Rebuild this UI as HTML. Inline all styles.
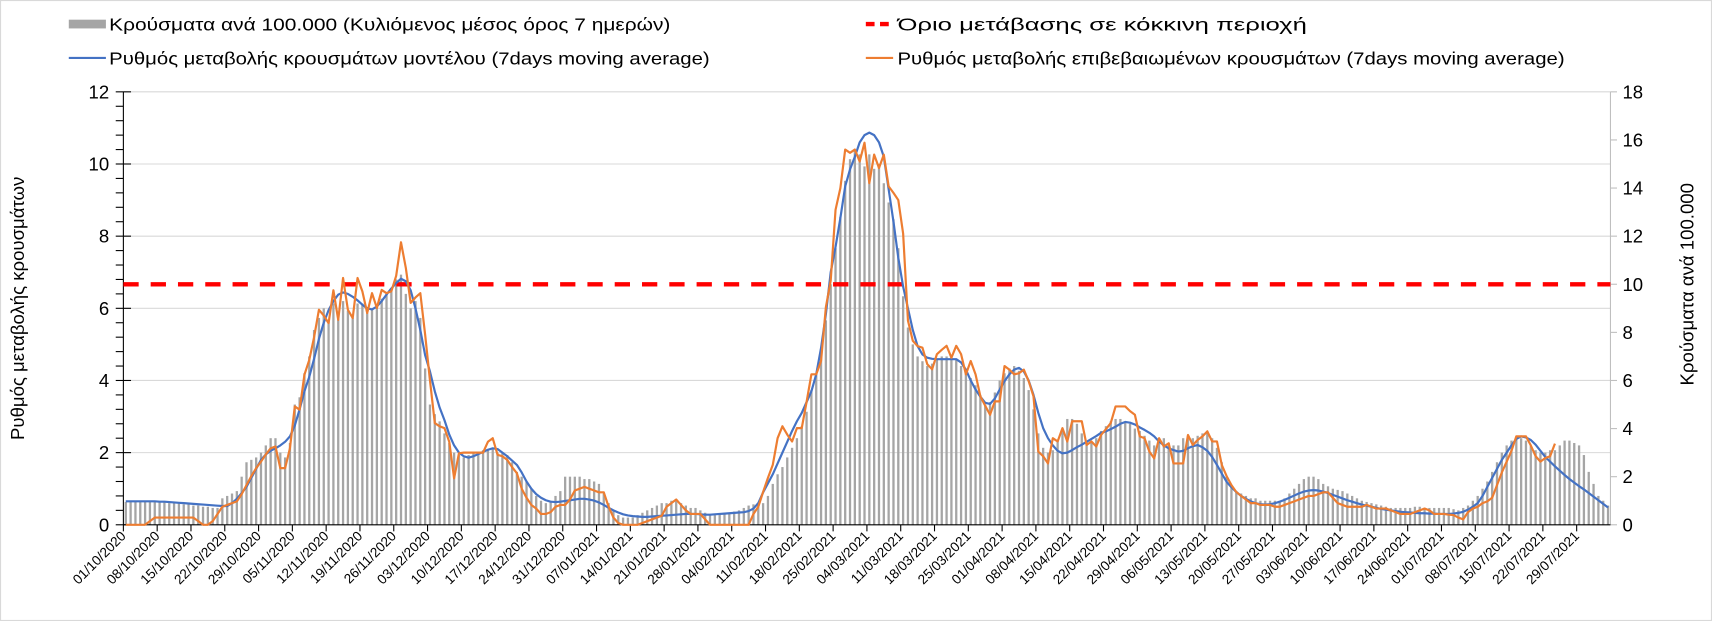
<!DOCTYPE html>
<html><head><meta charset="utf-8">
<style>
html,body{margin:0;padding:0;background:#fff;}
svg{display:block;}
text{font-family:"Liberation Sans",sans-serif;fill:#000;}
</style></head>
<body>
<svg id="chart" width="1712" height="621" viewBox="0 0 1568 568" preserveAspectRatio="none" xmlns="http://www.w3.org/2000/svg">
<rect x="0.5" y="0.5" width="1567" height="567" fill="#fff" stroke="#d9d9d9"/>
<g>
 <g>
  <rect x="63" y="18" width="34" height="8" fill="#a5a5a5"/>
  <text x="100" y="28" font-size="16" textLength="514" lengthAdjust="spacingAndGlyphs">Κρούσματα ανά 100.000 (Κυλιόμενος μέσος όρος 7 ημερών)</text>
 </g>
 <g>
  <line x1="793" y1="22" x2="818" y2="22" stroke="#ff0000" stroke-width="4" stroke-dasharray="8,5"/>
  <text x="822" y="28" font-size="16" textLength="375" lengthAdjust="spacingAndGlyphs">Όριο μετάβασης σε κόκκινη περιοχή</text>
 </g>
 <g>
  <line x1="63" y1="53" x2="97" y2="53" stroke="#4472c4" stroke-width="2"/>
  <text x="100" y="59" font-size="16" textLength="550" lengthAdjust="spacingAndGlyphs">Ρυθμός μεταβολής κρουσμάτων μοντέλου (7days moving average)</text>
 </g>
 <g>
  <line x1="793" y1="53" x2="818" y2="53" stroke="#ed7d31" stroke-width="2"/>
  <text x="822" y="59" font-size="16" textLength="611" lengthAdjust="spacingAndGlyphs">Ρυθμός μεταβολής επιβεβαιωμένων κρουσμάτων (7days moving average)</text>
 </g>
</g>
<text transform="translate(22,282) rotate(-90)" text-anchor="middle" font-size="17">Ρυθμός μεταβολής κρουσμάτων</text>
<text transform="translate(1551,260) rotate(-90)" text-anchor="middle" font-size="17">Κρούσματα ανά 100.000</text>
<g id="grid"></g>
<g id="bars"></g>
<g id="axes"></g>
<g id="lines"></g>
</svg>
<script>
const tickLabels = ["01/10/2020","08/10/2020","15/10/2020","22/10/2020","29/10/2020","05/11/2020","12/11/2020","19/11/2020","26/11/2020","03/12/2020","10/12/2020","17/12/2020","24/12/2020","31/12/2020","07/01/2021","14/01/2021","21/01/2021","28/01/2021","04/02/2021","11/02/2021","18/02/2021","25/02/2021","04/03/2021","11/03/2021","18/03/2021","25/03/2021","01/04/2021","08/04/2021","15/04/2021","22/04/2021","29/04/2021","06/05/2021","13/05/2021","20/05/2021","27/05/2021","03/06/2021","10/06/2021","17/06/2021","24/06/2021","01/07/2021","08/07/2021","15/07/2021","22/07/2021","29/07/2021"];
const leftTicks = [0,2,4,6,8,10,12];
const rightTicks = [0,2,4,6,8,10,12,14,16,18];
const thresholdRight = [10];
const casesPer100k = [
0.95,0.95,0.95,0.95,0.95,0.95,0.95,
0.95,0.95,0.9,0.9,0.9,0.85,0.85,
0.8,0.8,0.75,0.75,0.7,0.7,1.1,
1.2,1.3,1.4,2.0,2.6,2.7,2.8,
3.0,3.3,3.6,3.6,3.0,2.8,3.4,
5.0,5.3,6.3,7.0,8.1,8.6,9.0,
8.5,9.2,8.7,9.3,8.9,8.6,9.2,
9.2,8.8,9.0,9.1,9.4,9.6,9.8,
10.2,10.4,9.6,9.0,9.3,8.6,6.5,
5.0,4.6,4.3,3.8,3.4,3.0,2.9,
2.8,2.9,3.0,3.0,3.1,3.1,3.2,
3.0,3.0,2.9,2.6,2.2,2.0,1.8,
1.5,1.2,1.0,0.9,1.0,1.2,1.4,
2.0,2.0,2.0,2.0,1.9,1.9,1.8,
1.7,1.3,0.9,0.6,0.4,0.3,0.3,
0.3,0.4,0.5,0.6,0.7,0.8,0.9,
0.9,1.0,1.05,0.9,0.8,0.7,0.7,
0.6,0.5,0.4,0.4,0.45,0.5,0.5,
0.55,0.6,0.7,0.8,0.85,0.85,0.9,
1.2,1.7,2.1,2.4,2.8,3.2,3.6,
4.1,4.7,5.6,6.3,7.3,8.5,10.0,
11.5,12.8,14.3,15.2,15.6,15.4,14.9,
15.4,14.8,15.0,14.2,13.4,12.7,11.5,
9.5,8.2,7.5,7.0,6.8,6.6,6.7,
6.9,7.0,7.0,7.0,6.9,6.6,6.3,
6.1,5.8,5.4,5.0,5.1,5.5,6.0,
6.3,6.5,6.6,6.4,6.1,5.6,4.8,
3.8,3.2,3.0,3.1,3.5,4.0,4.4,
4.4,4.2,3.8,3.5,3.4,3.6,3.9,
4.1,4.3,4.4,4.4,4.3,4.2,4.0,
3.9,3.7,3.5,3.3,3.5,3.6,3.4,
3.3,3.3,3.6,3.7,3.6,3.7,3.8,
3.9,3.6,3.2,2.6,2.0,1.6,1.4,
1.3,1.2,1.1,1.1,1.0,1.0,1.0,
1.0,1.0,1.1,1.3,1.5,1.7,1.9,
2.0,2.0,1.9,1.7,1.6,1.5,1.45,
1.4,1.3,1.2,1.1,1.0,0.95,0.9,
0.85,0.8,0.75,0.7,0.7,0.7,0.7,
0.7,0.75,0.75,0.7,0.7,0.7,0.7,
0.7,0.7,0.65,0.6,0.7,0.8,1.0,
1.2,1.5,1.8,2.2,2.6,3.0,3.3,
3.5,3.6,3.6,3.5,3.3,3.1,3.0,
3.0,3.1,3.1,3.3,3.5,3.5,3.4,
3.3,2.9,2.2,1.7,1.2,1.0,0.8];
const modelRate = [
0.65,0.65,0.65,0.65,0.65,0.65,0.65,
0.64,0.64,0.63,0.62,0.61,0.6,0.59,
0.58,0.57,0.56,0.55,0.54,0.53,0.52,
0.52,0.6,0.72,0.88,1.05,1.3,1.55,
1.8,1.95,2.05,2.12,2.2,2.3,2.45,
2.75,3.2,3.7,4.1,4.6,5.15,5.6,
5.95,6.2,6.38,6.44,6.4,6.32,6.22,
6.1,6.0,5.97,6.05,6.2,6.38,6.55,
6.7,6.82,6.75,6.5,6.0,5.4,4.7,
4.25,3.7,3.25,2.9,2.5,2.2,2.0,
1.9,1.86,1.9,1.96,2.02,2.08,2.12,
2.1,2.0,1.9,1.78,1.66,1.45,1.2,
1.0,0.85,0.75,0.68,0.64,0.63,0.64,
0.66,0.68,0.7,0.72,0.72,0.7,0.67,
0.62,0.55,0.47,0.4,0.34,0.29,0.26,
0.24,0.23,0.22,0.22,0.23,0.24,0.25,
0.26,0.27,0.28,0.29,0.3,0.3,0.3,
0.29,0.28,0.28,0.29,0.3,0.31,0.32,
0.33,0.34,0.35,0.38,0.45,0.6,0.9,
1.15,1.4,1.7,2.0,2.3,2.6,2.87,
3.1,3.4,3.7,4.17,4.9,5.84,7.0,
7.7,8.5,9.38,9.85,10.2,10.6,10.8,
10.87,10.8,10.6,10.2,9.3,8.4,7.4,
6.6,6.0,5.4,4.95,4.72,4.63,4.6,
4.59,4.59,4.59,4.59,4.59,4.5,4.3,
4.0,3.75,3.55,3.38,3.35,3.5,3.75,
3.98,4.17,4.3,4.35,4.25,4.0,3.6,
3.1,2.68,2.4,2.2,2.05,1.98,2.0,
2.07,2.15,2.22,2.3,2.38,2.46,2.55,
2.59,2.65,2.72,2.8,2.85,2.83,2.78,
2.7,2.63,2.55,2.45,2.31,2.2,2.12,
2.07,2.03,2.05,2.12,2.18,2.21,2.15,
2.05,1.88,1.66,1.42,1.19,1.04,0.91,
0.8,0.72,0.65,0.6,0.57,0.56,0.57,
0.6,0.64,0.69,0.75,0.81,0.87,0.92,
0.95,0.96,0.95,0.92,0.88,0.83,0.78,
0.73,0.68,0.64,0.6,0.56,0.53,0.5,
0.47,0.44,0.42,0.4,0.38,0.36,0.35,
0.34,0.33,0.32,0.32,0.31,0.31,0.3,
0.3,0.3,0.31,0.33,0.36,0.42,0.5,
0.6,0.8,1.05,1.3,1.55,1.8,2.0,
2.2,2.38,2.45,2.42,2.35,2.22,2.05,
1.88,1.75,1.62,1.5,1.38,1.27,1.17,
1.07,0.98,0.88,0.78,0.68,0.58,0.48];
const confirmedRate = [
0,0,0,0,0,0.1,0.2,
0.2,0.2,0.2,0.2,0.2,0.2,0.2,
0.2,0.1,0,0,0.1,0.3,0.5,
0.55,0.6,0.65,0.85,1.1,1.35,1.57,
1.75,1.95,2.12,2.17,1.57,1.57,2.12,
3.28,3.19,4.16,4.57,5.2,5.96,5.8,
5.59,6.5,5.68,6.84,5.96,5.73,6.84,
6.47,5.87,6.42,6.01,6.51,6.42,6.47,
6.9,7.83,7.12,6.15,6.3,6.42,5.27,
4.0,2.82,2.73,2.68,2.3,1.29,1.98,
2.0,2.0,2.0,2.0,2.0,2.3,2.4,
1.94,1.9,1.8,1.6,1.43,1.0,0.75,
0.55,0.45,0.3,0.3,0.35,0.5,0.55,
0.55,0.7,0.95,1.0,1.05,1.0,0.95,
0.9,0.9,0.5,0.2,0.05,0,0,
0,0,0.05,0.1,0.15,0.2,0.25,
0.5,0.6,0.7,0.55,0.4,0.3,0.3,
0.3,0.15,0,0,0,0,0,
0,0,0,0,0.3,0.5,0.91,
1.3,1.66,2.4,2.73,2.5,2.31,2.68,
2.68,3.4,4.17,4.17,4.54,6.03,6.77,
8.73,9.33,10.4,10.31,10.4,10.07,10.59,
9.47,10.26,9.89,10.26,9.38,9.2,9.0,
8.07,5.66,5.1,4.95,4.91,4.45,4.31,
4.73,4.85,4.96,4.63,4.96,4.73,4.17,
4.54,4.17,3.56,3.3,3.05,3.42,3.42,
4.4,4.3,4.17,4.2,4.3,3.98,3.56,
2.03,1.9,1.7,2.4,2.31,2.68,2.31,
2.87,2.87,2.87,2.21,2.31,2.17,2.49,
2.65,2.82,3.28,3.28,3.28,3.15,3.05,
2.45,2.4,2.03,1.84,2.4,2.17,2.26,
1.7,1.7,1.7,2.49,2.21,2.35,2.45,
2.59,2.31,2.31,1.66,1.35,1.1,0.91,
0.8,0.7,0.6,0.6,0.55,0.55,0.55,
0.5,0.5,0.55,0.6,0.65,0.7,0.75,
0.8,0.8,0.85,0.9,0.9,0.75,0.6,
0.55,0.5,0.5,0.5,0.5,0.55,0.5,
0.45,0.45,0.45,0.4,0.35,0.3,0.3,
0.3,0.35,0.4,0.45,0.4,0.3,0.3,
0.3,0.28,0.27,0.2,0.15,0.35,0.45,
0.5,0.6,0.65,0.75,1.1,1.45,1.75,
2.05,2.45,2.45,2.45,2.2,1.9,1.75,
1.85,1.9,2.25];

const NS="http://www.w3.org/2000/svg";
const X0=113, X1=1475, Y0=480, YTOP=84;
const N=casesPer100k.length;
const W=(X1-X0)/N;
function xPos(i){return X0+(i+0.5)*W;}
function xEdge(i){return X0+i*W;}
function yL(v){return Y0-(v/12)*(Y0-YTOP);}
function yR(v){return Y0-(v/18)*(Y0-YTOP);}
function mk(tag,attrs,parent){const e=document.createElementNS(NS,tag);for(const k in attrs)e.setAttribute(k,attrs[k]);parent.appendChild(e);return e;}
const grid=document.getElementById('grid'), bars=document.getElementById('bars'), axes=document.getElementById('axes'), lines=document.getElementById('lines');

leftTicks.forEach(v=>{
  if(v>0){const g=mk('line',{x1:X0,x2:X1,y1:yL(v),y2:yL(v),stroke:'#d9d9d9','stroke-width':1},grid);
  
  }
});
casesPer100k.forEach((v,i)=>{
  const r=mk('rect',{x:xPos(i)-1.05,y:yR(v),width:2.1,height:Y0-yR(v),fill:'#a5a5a5'},bars);
  
  
});
// left axis
let la=mk('line',{x1:X0,x2:X0,y1:YTOP,y2:Y0,stroke:'#000','stroke-width':1},axes);


for(let k=0;k<=30;k++){
  const v=k*0.4, major=(k%5===0);
  const t=mk('line',{x1:X0-7,x2:major?X0+7:X0,y1:yL(v),y2:yL(v),stroke:'#000','stroke-width':1},axes);
  
  
}
leftTicks.forEach(v=>{
  const t=mk('text',{x:100,y:yL(v)+6,'text-anchor':'end','font-size':17},axes);
  t.textContent=v;
  
  
});
// right axis
let ra=mk('line',{x1:X1,x2:X1,y1:YTOP,y2:Y0,stroke:'#bfbfbf','stroke-width':1},axes);


rightTicks.forEach(v=>{
  const tk=mk('line',{x1:X1,x2:X1+6,y1:yR(v),y2:yR(v),stroke:'#bfbfbf','stroke-width':1},axes);
  
  
  const t=mk('text',{x:1486,y:yR(v)+6,'font-size':17},axes);
  t.textContent=v;
  
  
});
// x axis
let xa=mk('line',{x1:X0,x2:X1,y1:Y0,y2:Y0,stroke:'#000','stroke-width':1},axes);


tickLabels.forEach((lab,k)=>{
  const x=xEdge(k*7);
  const tk=mk('line',{x1:x,x2:x,y1:Y0,y2:Y0+6,stroke:'#000','stroke-width':1},axes);
  
  
  const t=mk('text',{transform:`translate(${x+3},${Y0+11}) rotate(-45)`,'text-anchor':'end','font-size':12.5},axes);
  t.textContent=lab;
  
  
});
// threshold
thresholdRight.forEach(v=>{
  const th=mk('line',{x1:X0,x2:X1,y1:yR(v),y2:yR(v),stroke:'#ff0000','stroke-width':4,'stroke-dasharray':'14,11'},lines);
  
  
});
function path(arr){return arr.map((v,i)=>(i?'L':'M')+xPos(i).toFixed(2)+' '+yL(v).toFixed(2)).join(' ');}
const pm=mk('path',{d:path(modelRate),fill:'none',stroke:'#4472c4','stroke-width':2,'stroke-linejoin':'round'},lines);


const pc=mk('path',{d:path(confirmedRate),fill:'none',stroke:'#ed7d31','stroke-width':2,'stroke-linejoin':'round'},lines);


</script>
</body></html>
